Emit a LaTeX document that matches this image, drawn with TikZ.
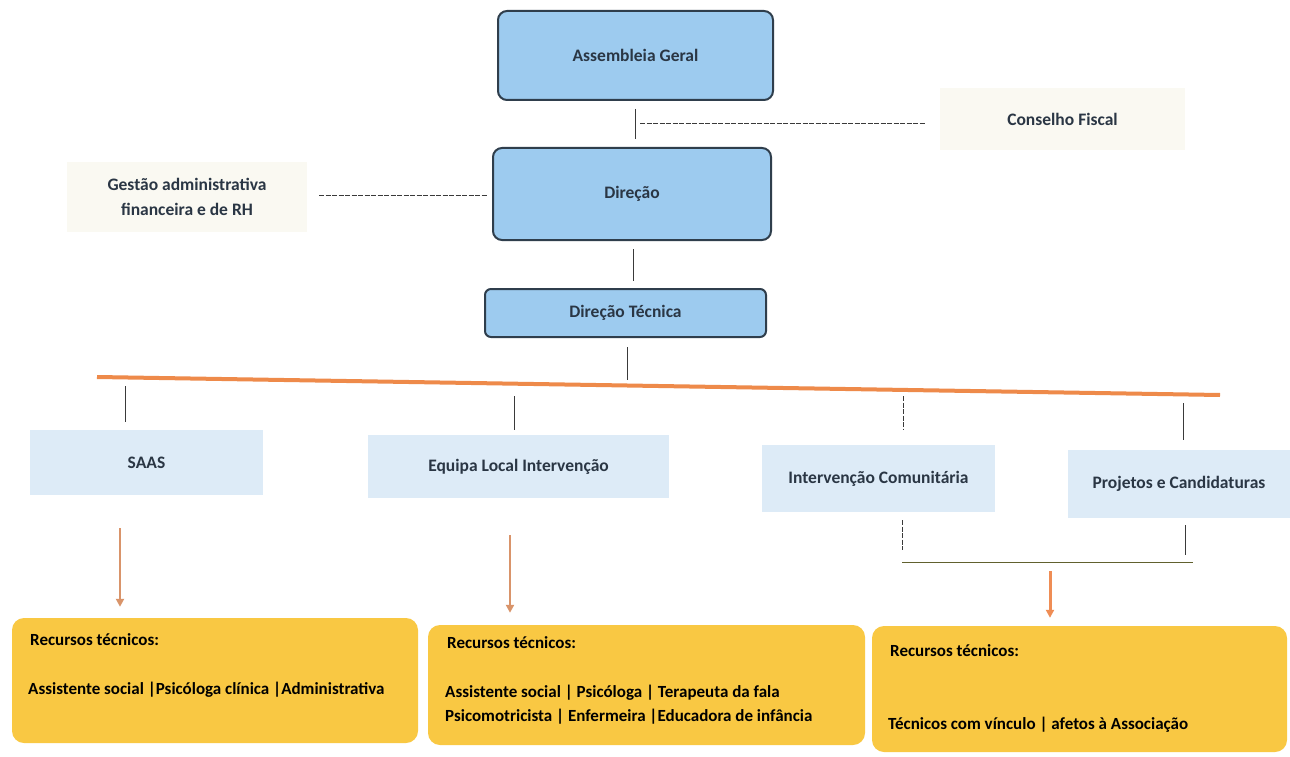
\documentclass[tikz,border=0pt]{standalone}
\usepackage{fontspec}
\setmainfont{Carlito}
\usetikzlibrary{arrows.meta}
\definecolor{bluebox}{HTML}{9DCBEF}
\definecolor{bordc}{HTML}{2F3E4C}
\definecolor{paleblue}{HTML}{DDEBF7}
\definecolor{paleivory}{HTML}{FAF9F2}
\definecolor{orangebar}{HTML}{EE8A4A}
\definecolor{arrowc}{HTML}{D9946A}
\definecolor{arrowc2}{HTML}{EF8D55}
\definecolor{yellowbox}{HTML}{F9C843}
\definecolor{txtdark}{HTML}{2A3644}
\definecolor{linec}{HTML}{3A3A3A}
\tikzset{
  mainbox/.style={draw=bordc, line width=2pt, fill=bluebox, rounded corners=9pt,
    font=\bfseries\fontsize{17.5}{20}\selectfont, text=txtdark},
  sidebox/.style={fill=paleivory, font=\bfseries\fontsize{17.5}{25}\selectfont,
    text=txtdark, align=center},
  unitbox/.style={fill=paleblue, font=\bfseries\fontsize{17.5}{20}\selectfont, text=txtdark},
  resbox/.style={fill=yellowbox, rounded corners=12pt},
  restext/.style={anchor=west, inner sep=0pt, font=\bfseries\fontsize{17}{24}\selectfont, text=black, align=left},
  conn/.style={draw=linec, line width=1pt},
  dashconn/.style={draw=linec, line width=1pt, dash pattern=on 5pt off 1.5pt},
  oarrow/.style={draw=arrowc, line width=2pt, -{Triangle[length=8pt,width=8pt]}},
}
\begin{document}
\begin{tikzpicture}[x=1pt,y=-1pt]
\useasboundingbox (0,0) rectangle (1290,757);
\fill[white] (0,0) rectangle (1290,757);

% top level
\node[mainbox, minimum width=275pt, minimum height=89pt] (ag) at (635.5,55.5) {Assembleia Geral};
\node[mainbox, minimum width=278pt, minimum height=92pt] (dir) at (632,194) {Direção};
\node[mainbox, minimum width=281pt, minimum height=48pt, rounded corners=6pt] (dt) at (625.5,313) {Direção Técnica};

\node[sidebox, minimum width=245pt, minimum height=62pt] (cf) at (1062.5,119) {Conselho Fiscal};
\node[sidebox, minimum width=240pt, minimum height=70pt] (gest) at (187,197) {Gestão administrativa\\financeira e de RH};

% connectors top
\coordinate (c1) at (635,124);
\draw[conn, shorten <=8pt, shorten >=8pt] (ag.south -| c1) -- (c1 |- dir.north);
\draw[dashconn, shorten <=5pt, shorten >=15pt] (c1) -- (c1 -| cf.west);
\draw[dashconn, shorten <=12pt, shorten >=5pt] (gest.east |- 0,195) -- (dir.west |- 0,195);
\coordinate (c2) at (633,265);
\draw[conn, shorten <=8pt, shorten >=7pt] (c2 |- dir.south) -- (c2 |- dt.north);

% orange bar
\coordinate (barL) at (97,377);
\coordinate (barR) at (1220,395);
\coordinate (c3) at (627,385);
\draw[conn, shorten <=9pt, shorten >=5pt] (c3 |- dt.south) -- (c3);
\draw[draw=orangebar, line width=4pt] (barL) -- (barR);

% units
\node[unitbox, minimum width=233pt, minimum height=65pt] (saas) at (146.5,462.5) {SAAS};
\node[unitbox, minimum width=301pt, minimum height=63pt] (eli) at (518.5,466.5) {Equipa Local Intervenção};
\node[unitbox, minimum width=233pt, minimum height=67pt] (ic) at (878.5,478.5) {Intervenção Comunitária};
\node[unitbox, minimum width=222pt, minimum height=68pt] (pc) at (1179,484) {Projetos e Candidaturas};

\coordinate (d1) at (125,386);
\coordinate (d2) at (514,396);
\coordinate (d3) at (903,396);
\coordinate (d4) at (1183,403);
\draw[conn, shorten >=8pt] (d1) -- (d1 |- saas.north);
\draw[conn, shorten >=5pt] (d2) -- (d2 |- eli.north);
\draw[dashconn, shorten >=15pt] (d3) -- (d3 |- ic.north);
\draw[conn, shorten >=10pt] (d4) -- (d4 |- pc.north);

% join below IC and PC
\coordinate (j1) at (902,562);
\coordinate (j2) at (1193,562);
\coordinate (j3) at (1185,562);
\draw[dashconn, shorten <=8pt, shorten >=12pt] (j1 |- ic.south) -- (j1);
\draw[conn, shorten <=7pt, shorten >=7pt] (j3 |- pc.south) -- (j3);
\draw[draw=linec!80!yellow, line width=1pt] (j1) -- (j2);

% resource boxes
\node[resbox, minimum width=406pt, minimum height=125pt] (r1) at (215,680.5) {};
\node[resbox, minimum width=437pt, minimum height=120pt] (r2) at (646.5,685) {};
\node[resbox, minimum width=415pt, minimum height=126pt] (r3) at (1079.5,689) {};

\node[restext] (r1t) at (30,640) {Recursos técnicos:};
\node[restext] (r1b) at (28,690) {Assistente social |Psicóloga clínica |Administrativa};
\node[restext] (r2t) at (447,643) {Recursos técnicos:};
\node[restext] (r2b) at (445,705) {Assistente social | Psicóloga | Terapeuta da fala\\Psicomotricista | Enfermeira |Educadora de infância};
\node[restext] (r3t) at (890,651) {Recursos técnicos:};
\node[restext] (r3b) at (888,725) {Técnicos com vínculo | afetos à Associação};

% arrows
\coordinate (a1) at (120,528);
\coordinate (a2) at (510,535);
\coordinate (a3) at (1050,571);
\draw[oarrow, shorten >=11pt] (a1) -- (a1 |- r1.north);
\draw[oarrow, shorten >=12pt] (a2) -- (a2 |- r2.north);
\draw[oarrow, draw=arrowc2, line width=3pt, shorten >=8pt] (a3) -- (a3 |- r3.north);
\end{tikzpicture}
\end{document}
